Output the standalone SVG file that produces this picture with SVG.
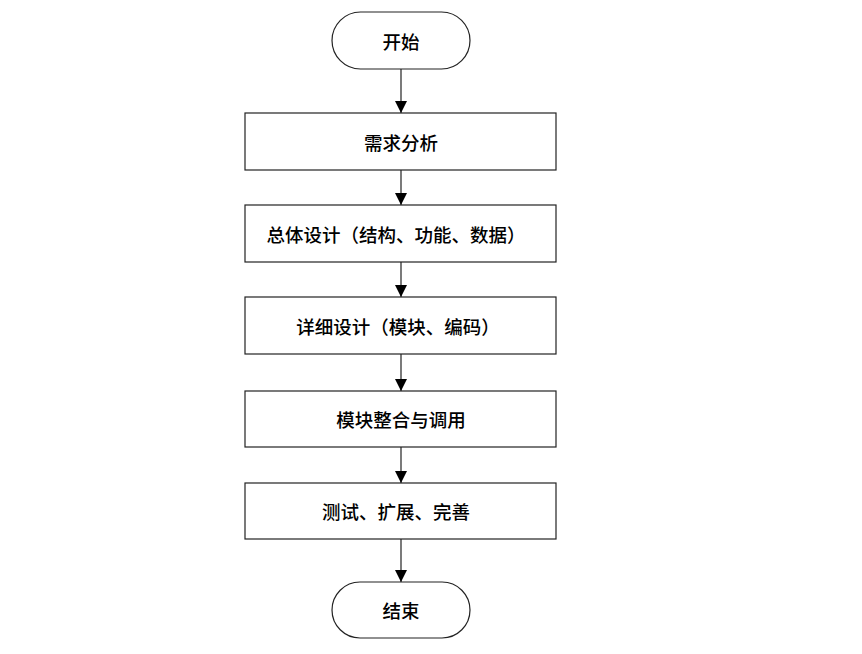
<svg xmlns="http://www.w3.org/2000/svg" width="862" height="654" viewBox="0 0 862 654">
<style>
.shape{fill:#fff;stroke:#222;stroke-width:1.2}
.lbl{font-family:"Noto Sans CJK SC","Noto Sans CJK JP",sans-serif;font-size:18.5px;font-weight:500;fill:#000;text-anchor:middle;dominant-baseline:central}
.conn{stroke:#222;stroke-width:1.2;fill:none;marker-end:url(#arr)}
</style>
<defs>
<marker id="arr" markerWidth="12" markerHeight="12" viewBox="0 0 12 12" refX="12" refY="6" orient="auto" markerUnits="userSpaceOnUse">
<path d="M0,0 L12,6 L0,12 Z" fill="#000"/>
</marker>
</defs>
<rect width="862" height="654" fill="#fff"/>
<g id="connectors">
<line class="conn" x1="401" y1="69" x2="401" y2="113"/>
<line class="conn" x1="401" y1="170" x2="401" y2="205"/>
<line class="conn" x1="401" y1="262" x2="401" y2="297"/>
<line class="conn" x1="401" y1="354" x2="401" y2="391"/>
<line class="conn" x1="401" y1="447" x2="401" y2="483"/>
<line class="conn" x1="401" y1="539" x2="401" y2="582"/>
</g>
<g id="start">
<rect class="shape" x="332" y="12" width="138" height="57" rx="28.5" ry="28.5"/>
<text class="lbl" x="401" y="41">开始</text>
</g>
<g id="n1">
<rect class="shape" x="245" y="113" width="311" height="57"/>
<text class="lbl" x="401" y="142">需求分析</text>
</g>
<g id="n2">
<rect class="shape" x="245" y="205" width="311" height="57"/>
<text class="lbl" x="396" y="234">总体设计（结构、功能、数据）</text>
</g>
<g id="n3">
<rect class="shape" x="245" y="297" width="311" height="57"/>
<text class="lbl" x="398" y="326">详细设计（模块、编码）</text>
</g>
<g id="n4">
<rect class="shape" x="245" y="391" width="311" height="56"/>
<text class="lbl" x="401" y="419">模块整合与调用</text>
</g>
<g id="n5">
<rect class="shape" x="245" y="483" width="311" height="56"/>
<text class="lbl" x="396" y="511">测试、扩展、完善</text>
</g>
<g id="end">
<rect class="shape" x="332" y="582" width="138" height="56" rx="28" ry="28"/>
<text class="lbl" x="401" y="610">结束</text>
</g>
</svg>
